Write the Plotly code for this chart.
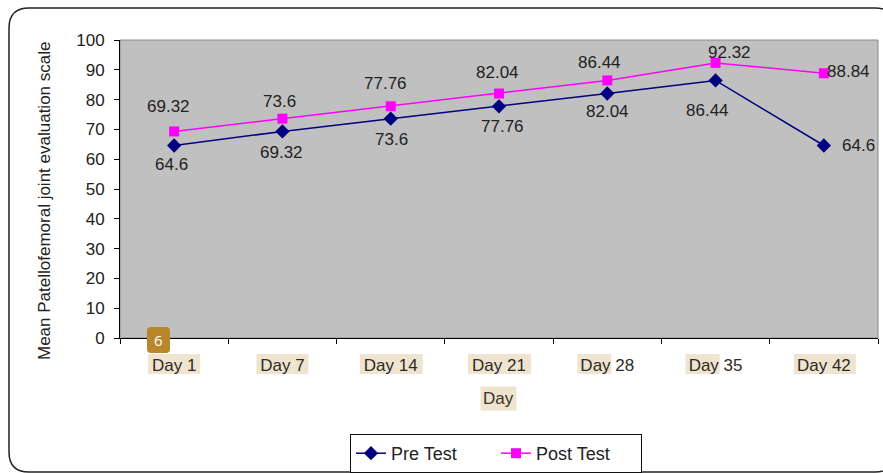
import plotly.graph_objects as go

# ---- data ----
days = ["Day 1", "Day 7", "Day 14", "Day 21", "Day 28", "Day 35", "Day 42"]
pre_test = [64.6, 69.32, 73.6, 77.76, 82.04, 86.44, 64.6]
post_test = [69.32, 73.6, 77.76, 82.04, 86.44, 92.32, 88.84]
y_ticks = [0, 10, 20, 30, 40, 50, 60, 70, 80, 90, 100]

# ---- label offsets (pixels, screen: +dy is downwards) ----
pre_dx = [-3, -1, 1, 3, 0, -8, 35]
pre_dy = [19, 21, 21, 20, 18, 30, 0]
post_dx = [-6, -3, -5, -2, -8, 14, 25]
post_dy = [-25, -17, -23, -21, -18, -10, -2]

W, H = 883, 473
L, R, T, B = 120, 878, 40, 338

FONT = "Liberation Sans, Arial, sans-serif"
TXT = "#222222"
HILITE = "#EFE4CF"


def px(x):
    return (x - L) / (R - L)


def py(y):
    return (B - y) / (B - T)


def rounded_rect(x0, y0, x1, y1, r):
    """Rounded rectangle path in paper coordinates from pixel corners."""
    pts = [
        f"M {px(x0 + r)},{py(y0)}",
        f"L {px(x1 - r)},{py(y0)}",
        f"Q {px(x1)},{py(y0)} {px(x1)},{py(y0 + r)}",
        f"L {px(x1)},{py(y1 - r)}",
        f"Q {px(x1)},{py(y1)} {px(x1 - r)},{py(y1)}",
        f"L {px(x0 + r)},{py(y1)}",
        f"Q {px(x0)},{py(y1)} {px(x0)},{py(y1 - r)}",
        f"L {px(x0)},{py(y0 + r)}",
        f"Q {px(x0)},{py(y0)} {px(x0 + r)},{py(y0)}",
        "Z",
    ]
    return " ".join(pts)


fig = go.Figure()

fig.add_trace(go.Scatter(
    x=days, y=pre_test, name="Pre Test", mode="lines+markers",
    line=dict(color="#000080", width=1.5),
    marker=dict(symbol="diamond", size=11, color="#000080"),
    cliponaxis=False,
))
fig.add_trace(go.Scatter(
    x=days, y=post_test, name="Post Test", mode="lines+markers",
    line=dict(color="#FF00FF", width=1.5),
    marker=dict(symbol="square", size=10, color="#FF00FF"),
    cliponaxis=False,
))

annotations = []
for i, d in enumerate(days):
    annotations.append(dict(
        x=d, y=pre_test[i], xref="x", yref="y", text=f"{pre_test[i]:g}",
        showarrow=False, xshift=pre_dx[i], yshift=-pre_dy[i],
        xanchor="center", yanchor="middle",
        font=dict(family=FONT, size=17, color=TXT),
    ))
    annotations.append(dict(
        x=d, y=post_test[i], xref="x", yref="y", text=f"{post_test[i]:g}",
        showarrow=False, xshift=post_dx[i], yshift=-post_dy[i],
        xanchor="center", yanchor="middle",
        font=dict(family=FONT, size=17, color=TXT),
    ))

# y axis title
annotations.append(dict(
    x=px(45), y=py(201), xref="paper", yref="paper",
    xanchor="center", yanchor="middle",
    text="Mean Patellofemoral joint evaluation scale", textangle=-90,
    showarrow=False, font=dict(family=FONT, size=17, color=TXT),
))
# x axis title with highlight
annotations.append(dict(
    x=px(498), y=py(398), xref="paper", yref="paper", text="Day",
    xanchor="center", yanchor="middle",
    showarrow=False, bgcolor=HILITE, borderpad=2,
    font=dict(family=FONT, size=17, color="#3a3224"),
))
# small page badge
annotations.append(dict(
    x=px(158.5), y=py(340), xref="paper", yref="paper", text="6",
    xanchor="center", yanchor="middle",
    showarrow=False, font=dict(family="Open Sans, sans-serif", size=15, color="white"),
))

shapes = []
# outer rounded frame
shapes.append(dict(
    type="path", xref="paper", yref="paper", layer="below",
    path=rounded_rect(9, 8, 895, 472, 20),
    line=dict(color="#222222", width=1.5),
))
# plot-area border (top / right grey)
shapes.append(dict(
    type="rect", xref="paper", yref="paper", x0=0, y0=0, x1=1, y1=1,
    line=dict(color="#8a8a8a", width=1), layer="below",
))
# highlight boxes behind tick labels: (left px, right px) relative to category center
hl_boxes = [(-26, 26), (-26, 26), (-31, 32), (-31, 32), (-30, 4), (-30, 4), (-30, 32)]
cat_w = (R - L) / len(days)
for i, (a, b) in enumerate(hl_boxes):
    cx = L + cat_w * (i + 0.5)
    shapes.append(dict(
        type="rect", xref="paper", yref="paper", layer="below",
        x0=px(cx + a), x1=px(cx + b), y0=py(374), y1=py(354),
        fillcolor=HILITE, line=dict(width=0),
    ))
# badge box
shapes.append(dict(
    type="path", xref="paper", yref="paper", layer="above",
    path=rounded_rect(147, 327, 170, 353, 4),
    fillcolor="#B8862B", line=dict(width=0),
))

fig.update_layout(
    width=W, height=H, autosize=False,
    margin=dict(l=L, r=W - R, t=T, b=H - B, pad=0, autoexpand=False),
    paper_bgcolor="white", plot_bgcolor="#C0C0C0",
    font=dict(family=FONT, size=17, color=TXT),
    showlegend=True,
    legend=dict(
        orientation="h", x=px(496), xanchor="center", y=py(434), yanchor="top",
        bordercolor="#111111", borderwidth=1, bgcolor="white",
        font=dict(family=FONT, size=18, color=TXT),
        entrywidth=100, entrywidthmode="pixels",
        itemwidth=30, tracegroupgap=0,
    ),
    annotations=annotations,
    shapes=shapes,
)

fig.update_xaxes(
    type="category", categoryorder="array", categoryarray=days,
    range=[-0.5, len(days) - 0.5], tickson="boundaries",
    ticks="outside", ticklen=5, tickcolor="black", tickwidth=1,
    ticklabelstandoff=12,
    showline=True, linecolor="black", linewidth=1,
    showgrid=False, zeroline=False,
    tickfont=dict(family=FONT, size=17, color="#2e2a22"),
)
fig.update_yaxes(
    range=[0, 100], tickvals=y_ticks, ticks="outside", ticklen=5,
    tickcolor="black", tickwidth=1, ticklabelstandoff=6,
    showline=True, linecolor="black", linewidth=1,
    showgrid=False, zeroline=False,
    tickfont=dict(family=FONT, size=17, color=TXT),
)

fig.write_html("out.html")
